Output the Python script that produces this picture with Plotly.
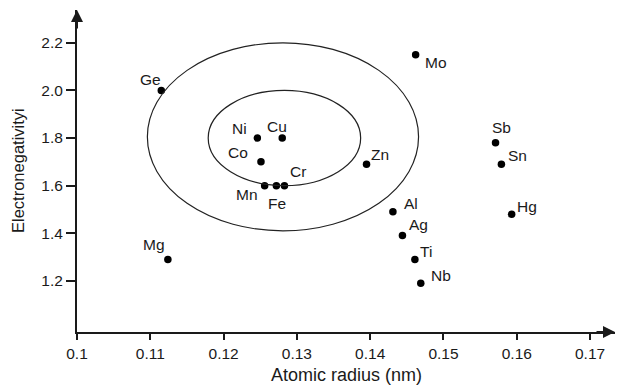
import plotly.graph_objects as go

# ---- data ----
elements = ["Ge", "Ni", "Cu", "Co", "Mn", "Fe", "Cr", "Zn", "Mo", "Sb", "Sn",
            "Al", "Ag", "Ti", "Nb", "Hg", "Mg"]
atomic_radius = [0.1115, 0.1246, 0.1280, 0.1251, 0.1256, 0.1272, 0.1283, 0.1395,
                 0.1462, 0.1571, 0.1579, 0.1431, 0.1444, 0.1461, 0.1469, 0.1593, 0.1124]
electronegativity = [2.00, 1.80, 1.80, 1.70, 1.60, 1.60, 1.60, 1.69,
                     2.15, 1.78, 1.69, 1.49, 1.39, 1.29, 1.19, 1.48, 1.29]

x_tick_vals = [0.10, 0.11, 0.12, 0.13, 0.14, 0.15, 0.16, 0.17]
x_tick_text = ["0.1", "0.11", "0.12", "0.13", "0.14", "0.15", "0.16", "0.17"]
y_tick_vals = [1.2, 1.4, 1.6, 1.8, 2.0, 2.2]
y_tick_text = ["1.2", "1.4", "1.6", "1.8", "2.0", "2.2"]

# ellipses: (center x, center y, semi-axis x, semi-axis y)
outer_ellipse = [0.1281, 1.805, 0.0185, 0.395]
inner_ellipse = [0.1283, 1.800, 0.0104, 0.200]

x_title = "Atomic radius (nm)"
y_title = "Electronegativityi"

# ---- style: label pixel offsets (dx, dy; dy positive = up) ----
label_offsets = {
    "Ge": (-11, 11), "Ni": (-18, 10), "Cu": (-5, 12), "Co": (-23, 9),
    "Mn": (-18, -9), "Fe": (1, -18), "Cr": (14, 14), "Zn": (13, 10),
    "Mo": (20, -8), "Sb": (6, 15), "Sn": (16, 9), "Al": (18, 8),
    "Ag": (16, 11), "Ti": (11, 8), "Nb": (20, 8), "Hg": (15, 8), "Mg": (-14, 15),
}

FONT = "Liberation Sans, Arial, sans-serif"
INK = "#1a1a1a"

fig = go.Figure()
fig.add_trace(go.Scatter(
    x=atomic_radius, y=electronegativity, mode="markers",
    marker=dict(color="black", size=7.5), hoverinfo="text", text=elements,
    showlegend=False,
))

annotations = []
for name, xv, yv in zip(elements, atomic_radius, electronegativity):
    dx, dy = label_offsets[name]
    annotations.append(dict(
        x=xv, y=yv, xref="x", yref="y", text=name, showarrow=False,
        xshift=dx, yshift=dy, font=dict(family=FONT, size=15.5, color=INK),
    ))

# axis titles
annotations.append(dict(x=0.5, y=0, xref="paper", yref="paper", yanchor="middle",
                        yshift=-43, text=x_title, showarrow=False,
                        font=dict(family=FONT, size=18, color=INK)))
annotations.append(dict(x=0, y=0.5, xref="paper", yref="paper", xanchor="center",
                        xshift=-59, text=y_title, showarrow=False, textangle=-90,
                        font=dict(family=FONT, size=16.5, color=INK)))

# axis arrowheads
annotations.append(dict(x=1, y=0, xref="paper", yref="paper", ax=-20, ay=0,
                        showarrow=True, arrowhead=2, arrowsize=1.2, arrowwidth=2,
                        arrowcolor=INK, text=""))
annotations.append(dict(x=0, y=1, xref="paper", yref="paper", ax=0, ay=20,
                        showarrow=True, arrowhead=2, arrowsize=1.2, arrowwidth=2,
                        arrowcolor=INK, text=""))

shapes = []
for cx, cy, sx, sy in (outer_ellipse, inner_ellipse):
    shapes.append(dict(type="circle", xref="x", yref="y",
                       x0=cx - sx, x1=cx + sx, y0=cy - sy, y1=cy + sy,
                       line=dict(color="#222222", width=1.2)))

fig.update_layout(
    width=617, height=386,
    margin=dict(l=77, r=2, t=10, b=54),
    paper_bgcolor="white", plot_bgcolor="white",
    annotations=annotations, shapes=shapes,
    xaxis=dict(range=[0.1, 0.1734], tickvals=x_tick_vals, ticktext=x_tick_text,
               showgrid=False, zeroline=False, showline=True, linecolor=INK,
               linewidth=2, ticks="outside", ticklen=6, tickcolor=INK, tickwidth=1.5,
               tickfont=dict(family=FONT, size=15.5, color=INK)),
    yaxis=dict(range=[0.985, 2.338], tickvals=y_tick_vals, ticktext=y_tick_text,
               showgrid=False, zeroline=False, showline=True, linecolor=INK,
               linewidth=2, ticks="outside", ticklen=9, tickcolor=INK, tickwidth=1.5,
               tickfont=dict(family=FONT, size=15.5, color=INK)),
)

fig.write_html("out.html")
